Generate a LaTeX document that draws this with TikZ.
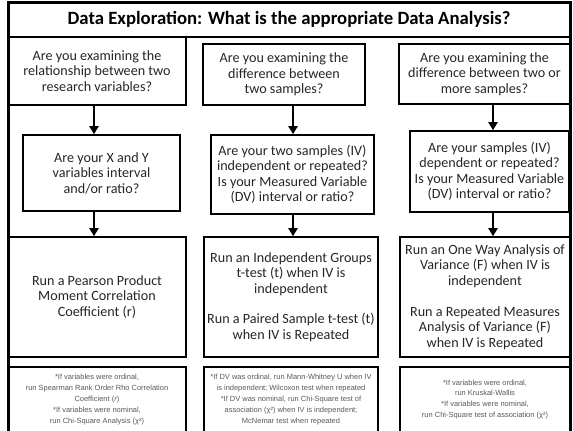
\documentclass[tikz,border=0pt]{standalone}
\usepackage{fontspec}
\setmainfont{Carlito}
\newfontfamily\notefont{Liberation Sans}
\usetikzlibrary{arrows.meta}
\tikzset{
  box/.style={draw=black, line width=1.6bp, rectangle, inner sep=0pt, align=center,
    text=black!85, font=\fontsize{14.2}{15.5}\selectfont},
  notebox/.style={draw=black, line width=1.6bp, rectangle, inner sep=0pt, align=center,
    text=black!65, font=\notefont\fontsize{7.5}{11}\selectfont},
  arr/.style={line width=2.6bp, -{Triangle[width=9bp,length=8bp]}},
}
\begin{document}
\begin{tikzpicture}[x=1bp,y=-1bp]
\useasboundingbox (0,0) rectangle (573,430);
\begin{scope}
\clip (0,0) rectangle (573,430);
\fill[white] (0,0) rectangle (573,430);
% title box
\node[draw=black, line width=1.6bp, minimum width=562bp, minimum height=35bp, inner sep=0pt,
  font=\bfseries\fontsize{18.8}{20}\selectfont, text=black] (title) at (289,19.5)
  {Data Exploration: What is the appropriate Data Analysis?};
% row 1
\node[box, minimum width=178bp, minimum height=68bp] (q1) at (97,71)
  {Are you examining the\\relationship between two\\research variables?};
\node[box, minimum width=162bp, minimum height=61bp] (q2) at (284,74.5)
  {Are you examining the\\difference between\\two samples?};
\node[box, minimum width=171bp, minimum height=60bp] (q3) at (484.5,74)
  {Are you examining the\\difference between two or\\more samples?};
% row 2
\node[box, minimum width=157bp, minimum height=76bp] (c1) at (101.5,173)
  {Are your X and Y\\variables interval\\and/or ratio?};
\node[box, minimum width=163bp, minimum height=79bp] (c2) at (292.5,174.5)
  {Are your two samples (IV)\\independent or repeated?\\Is your Measured Variable\\(DV) interval or ratio?};
\node[box, minimum width=159bp, minimum height=81bp] (c3) at (489.5,171.5)
  {Are your samples (IV)\\dependent or repeated?\\Is your Measured Variable\\(DV) interval or ratio?};
% row 3
\node[box, minimum width=178bp, minimum height=120bp] (r1) at (97,297)
  {Run a Pearson Product\\Moment Correlation\\Coefficient (r)};
\node[box, minimum width=174bp, minimum height=120bp] (r2) at (291,297)
  {Run an Independent Groups\\t-test (t) when IV is\\independent\\[15.5bp]Run a Paired Sample t-test (t)\\when IV is Repeated};
\node[box, minimum width=170bp, minimum height=120bp] (r3) at (485,297)
  {Run an One Way Analysis of\\Variance (F) when IV is\\independent\\[15.5bp]Run a Repeated Measures\\Analysis of Variance (F)\\when IV is Repeated};
% row 4
\node[notebox, minimum width=178bp, minimum height=65bp] (n1) at (97,399.5)
  {*If variables were ordinal,\\run Spearman Rank Order Rho Correlation\\Coefficient (\textit{r})\\*If variables were nominal,\\run Chi-Square Analysis (χ²)};
\node[notebox, minimum width=174bp, minimum height=65bp] (n2) at (291,399.5)
  {*If DV was ordinal, run Mann-Whitney U when IV\\is independent; Wilcoxon test when repeated\\*If DV was nominal, run Chi-Square test of\\association (χ²) when IV is independent;\\McNemar test when repeated};
\node[notebox, minimum width=170bp, minimum height=65bp] (n3) at (485,399.5)
  {*If variables were ordinal,\\run Kruskal-Wallis\\*If variables were nominal,\\run Chi-Square test of association (χ²)};
% arrows
\coordinate (ax1) at (94,0);
\coordinate (ax2) at (293,0);
\coordinate (ax3) at (493,0);
\draw[arr] (q1.south -| ax1) -- (c1.north -| ax1);
\draw[arr] (c1.south -| ax1) -- (r1.north -| ax1);
\draw[arr] (q2.south -| ax2) -- (c2.north -| ax2);
\draw[arr] (c2.south -| ax2) -- (r2.north -| ax2);
\draw[arr] (q3.south -| ax3) -- (c3.north -| ax3);
\draw[arr] (c3.south -| ax3) -- (r3.north -| ax3);
% outer frame
\draw[line width=3bp] (8,440) -- (8,2.5) -- (570,2.5) -- (570,440);
\end{scope}
\end{tikzpicture}
\end{document}
